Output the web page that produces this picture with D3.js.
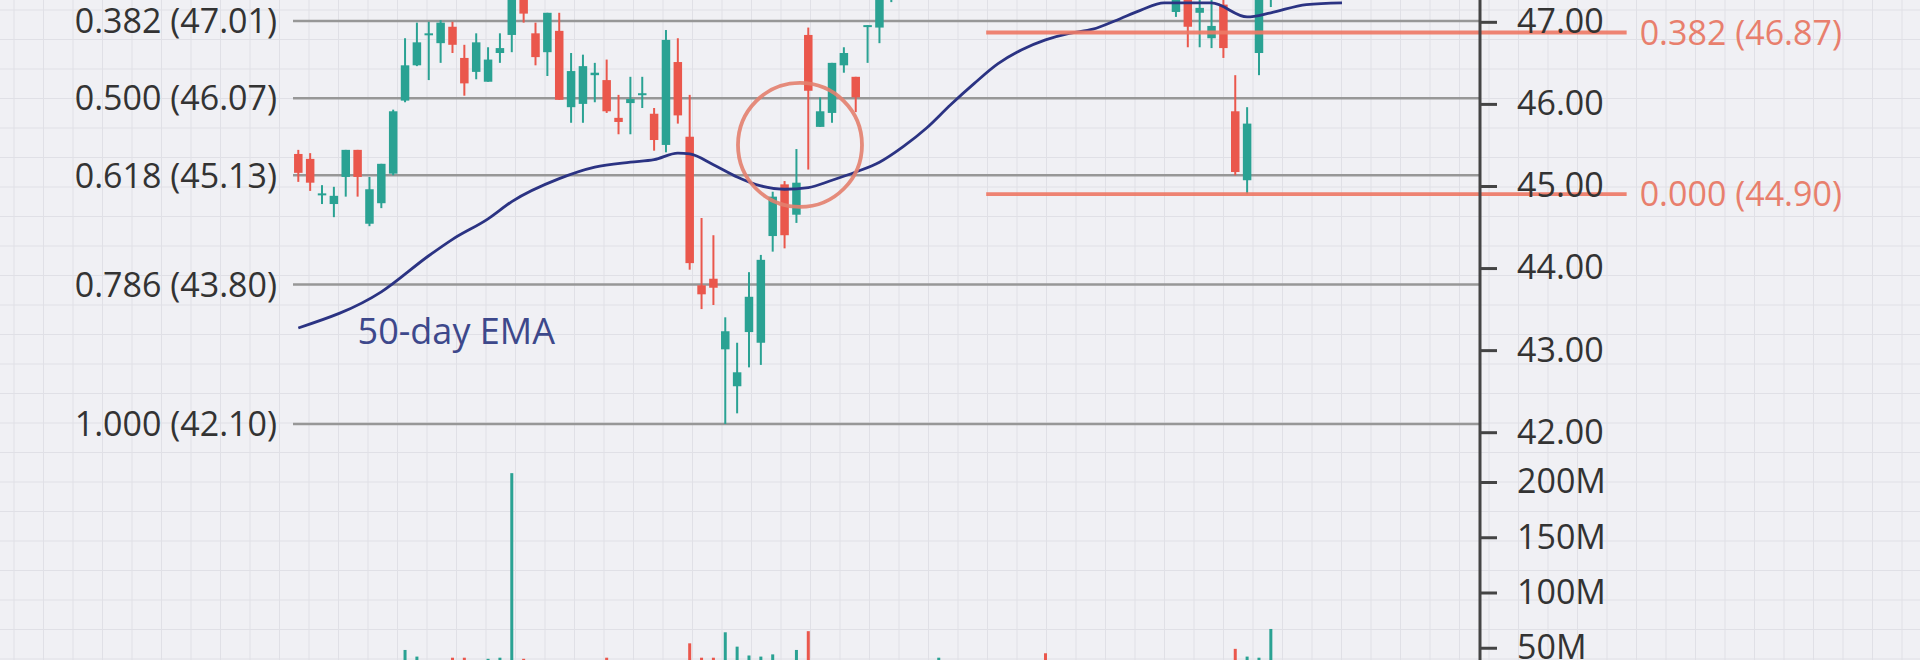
<!DOCTYPE html>
<html>
<head>
<meta charset="utf-8">
<script src="https://cdn.jsdelivr.net/npm/d3@7"></script>
<style>
  html, body { margin: 0; padding: 0; background: #f0f0f4; }
  svg { display: block; }
</style>
</head>
<body>
<svg id="chart" width="1920" height="660"></svg>
<script>
// ---------------- DATA ----------------
const candleDays = [0,1,2,3,4,5,6,7,8,9,10,11,12,13,14,15,16,17,18,19,20,21,22,23,24,25,26,27,28,29,30,31,32,33,34,35,36,37,38,39,40,41,42,43,44,45,46,47,48,49,50,74,75,76,77,78,79,80,81,82];
const opens  = [45.39,45.33,44.89,44.78,45.11,45.44,44.54,44.79,45.15,46.04,46.47,46.84,46.74,46.94,46.56,46.39,46.27,46.62,46.84,47.33,46.86,46.63,46.89,45.96,46.00,46.35,46.29,45.83,46.01,46.11,45.88,45.50,46.51,45.60,43.79,43.87,43.01,42.56,43.22,43.09,44.39,45.02,44.65,46.84,45.72,45.89,46.47,46.33,46.94,46.93,47.33,47.12,47.36,47.11,46.80,47.21,45.91,45.07,46.62,47.33];
const highs  = [45.44,45.40,45.01,44.99,45.44,45.44,45.11,45.27,45.93,46.80,46.99,47.00,47.02,47.00,46.72,46.86,46.69,46.86,47.45,47.39,46.99,47.11,47.11,46.62,46.60,46.50,46.54,46.11,46.33,46.33,45.95,46.90,46.80,46.11,44.61,44.40,43.40,43.09,43.95,44.16,44.93,45.06,45.45,46.93,46.08,46.50,46.69,46.33,46.96,47.41,47.69,47.39,47.41,47.33,47.30,47.33,46.35,45.96,47.45,47.60];
const lows   = [45.05,44.94,44.78,44.62,44.87,44.87,44.51,44.73,45.13,46.02,46.46,46.29,46.50,46.62,46.10,46.30,46.27,46.50,46.63,46.99,46.47,46.34,46.05,45.77,45.77,46.02,45.89,45.63,45.63,45.95,45.43,45.41,45.76,43.98,43.50,43.55,42.10,42.23,42.79,42.82,44.20,44.24,44.55,45.20,45.72,45.77,46.38,45.90,46.50,46.74,47.24,47.06,46.69,46.69,46.68,46.56,45.13,44.90,46.35,47.18];
const closes = [45.16,45.04,44.91,44.88,45.44,45.11,44.96,45.27,45.91,46.47,46.75,46.86,46.99,46.72,46.25,46.75,46.54,46.68,47.39,47.10,46.57,47.11,46.05,46.40,46.46,46.38,45.91,45.78,46.06,46.13,45.56,46.78,45.86,44.06,43.68,43.76,43.23,42.73,43.65,44.10,44.87,44.40,45.04,46.16,45.91,46.50,46.62,46.08,46.96,47.36,47.63,47.33,46.94,47.17,46.95,46.68,45.17,45.76,47.39,47.55];

// Volume (in shares) and direction (1 = up day, 0 = down day)
const volumeDays   = [9,10,13,14,16,17,18,19,26,33,34,35,36,37,38,39,40,42,43,54,63,79,80,81,82];
const volumeValues = [48e6,42e6,41e6,41e6,40e6,41e6,208e6,40e6,41e6,54e6,41e6,41e6,64e6,51e6,43e6,42e6,44e6,48e6,65e6,41e6,45e6,49e6,42e6,41e6,67e6];
const volumeUp     = [1,1,0,0,1,1,1,0,0,0,0,0,1,1,1,1,1,1,0,1,0,0,1,1,1];

// 50-day EMA
const emaDays   = [0,7,11,13,16,18,22,25,28,30,32,33,35,37,39,41,43,45,47,49,51,53,55,57,59,61,63,65,67,69,71,73,77,80,82,85,88];
const emaValues = [43.27,43.71,44.15,44.35,44.60,44.81,45.09,45.23,45.29,45.32,45.40,45.39,45.26,45.11,45.00,44.96,44.98,45.07,45.17,45.29,45.48,45.71,45.99,46.25,46.49,46.66,46.78,46.86,46.91,47.02,47.14,47.23,47.23,47.06,47.11,47.21,47.23];

// Fibonacci retracement (first swing) – gray levels
const fibRatios = [0.382, 0.500, 0.618, 0.786, 1.000];
const fibPrices = [47.01, 46.07, 45.13, 43.80, 42.10];

// Fibonacci extension (second swing) – orange levels
const fib2Ratios = [0.382, 0.000];
const fib2Prices = [46.87, 44.90];
const fib2FromDay = 58, fib2ToDay = 112;

// Right-axis ticks
const priceTicks  = [42, 43, 44, 45, 46, 47];
const volumeTicks = [50e6, 100e6, 150e6, 200e6];

// Annotations
const emaLabel = "50-day EMA";
const emaLabelAt = { day: 5, price: 43.07 };
const circleAt = { day: 42.3, price: 45.50 };

// ---------------- LAYOUT / STYLE ----------------
const W = 1920, H = 660;
const plotLeft = 293, axisX = 1480;
const FONT = "'Open Sans', 'Noto Sans', sans-serif";
const GREEN = "#2aa293", RED = "#ea574c";
const ORANGE = "#ee7a67";
const TEXT = "#333333";

const x = d3.scaleLinear().domain([0, 88]).range([298.3, 1342]);
const y = d3.scaleLinear().domain([42.10, 47.01]).range([424, 21]);
const yVol = d3.scaleLinear().domain([0, 200e6]).range([703, 482]);

const svg = d3.select("#chart");

// background
svg.append("rect").attr("width", W).attr("height", H).attr("fill", "#f0f0f4");
const grid = svg.append("g").attr("stroke", "#e0e0e6").attr("stroke-width", 1);
grid.selectAll("line.v").data(d3.range(14, W, 29.5)).join("line")
  .attr("class", "v").attr("x1", d => d).attr("x2", d => d).attr("y1", 0).attr("y2", H);
grid.selectAll("line.h").data(d3.range(10, H, 29.5)).join("line")
  .attr("class", "h").attr("y1", d => d).attr("y2", d => d).attr("x1", 0).attr("x2", W);

// gray fib levels
const fib = fibRatios.map((r, i) => ({ r, p: fibPrices[i] }));
svg.append("g").selectAll("line").data(fib).join("line")
  .attr("x1", plotLeft).attr("x2", axisX)
  .attr("y1", d => y(d.p)).attr("y2", d => y(d.p))
  .attr("stroke", "#979797").attr("stroke-width", 2.5);
svg.append("g").selectAll("text").data(fib).join("text")
  .attr("x", plotLeft - 16).attr("y", d => y(d.p)).attr("dy", "0.36em")
  .attr("text-anchor", "end")
  .attr("font-family", FONT).attr("font-size", 34).attr("font-weight", 500).attr("fill", TEXT)
  .text(d => `${d.r.toFixed(3)} (${d.p.toFixed(2)})`);

// volume bars
const vols = volumeDays.map((d, i) => ({ d, v: volumeValues[i], up: volumeUp[i] }));
svg.append("g").selectAll("rect").data(vols).join("rect")
  .attr("x", d => x(d.d) - 1.5).attr("width", 3)
  .attr("y", d => yVol(d.v)).attr("height", d => yVol(0) - yVol(d.v))
  .attr("fill", d => d.up ? GREEN : RED);

// candles
const candles = candleDays.map((d, i) => ({ d, o: opens[i], h: highs[i], l: lows[i], c: closes[i] }));
const cg = svg.append("g").selectAll("g").data(candles).join("g");
cg.append("line")
  .attr("x1", d => x(d.d)).attr("x2", d => x(d.d))
  .attr("y1", d => y(d.h)).attr("y2", d => y(d.l))
  .attr("stroke", d => d.c >= d.o ? GREEN : RED).attr("stroke-width", 2);
cg.append("rect")
  .attr("x", d => x(d.d) - 4.25).attr("width", 8.5)
  .attr("y", d => y(Math.max(d.o, d.c)))
  .attr("height", d => Math.max(2, Math.abs(y(d.o) - y(d.c))))
  .attr("fill", d => d.c >= d.o ? GREEN : RED);

// EMA
const ema = emaDays.map((d, i) => ({ d, v: emaValues[i] }));
svg.append("path").datum(ema)
  .attr("d", d3.line().x(d => x(d.d)).y(d => y(d.v)).curve(d3.curveMonotoneX))
  .attr("fill", "none").attr("stroke", "#2b3383").attr("stroke-width", 2.8);
svg.append("text")
  .attr("x", x(emaLabelAt.day)).attr("y", y(emaLabelAt.price))
  .attr("font-family", FONT).attr("font-size", 36).attr("font-weight", 500).attr("fill", "#3d488b")
  .text(emaLabel);

// orange fib levels
const fib2 = fib2Ratios.map((r, i) => ({ r, p: fib2Prices[i] }));
svg.append("g").selectAll("line").data(fib2).join("line")
  .attr("x1", x(fib2FromDay)).attr("x2", x(fib2ToDay))
  .attr("y1", d => y(d.p)).attr("y2", d => y(d.p))
  .attr("stroke", ORANGE).attr("stroke-width", 3.8).attr("opacity", 0.92);
svg.append("g").selectAll("text").data(fib2).join("text")
  .attr("x", x(fib2ToDay) + 13).attr("y", d => y(d.p)).attr("dy", "0.36em")
  .attr("font-family", FONT).attr("font-size", 34).attr("font-weight", 500).attr("fill", "#e87f6d")
  .text(d => `${d.r.toFixed(3)} (${d.p.toFixed(2)})`);

// highlight circle
svg.append("circle")
  .attr("cx", x(circleAt.day)).attr("cy", y(circleAt.price)).attr("r", 62)
  .attr("fill", "none").attr("stroke", "#e3806e").attr("stroke-width", 3.8).attr("opacity", 0.9);

// right axes
function styleAxis(g) {
  g.select(".domain").remove();
  g.selectAll(".tick line").attr("stroke", "#444").attr("stroke-width", 3);
  g.selectAll(".tick text").attr("font-family", FONT).attr("font-size", 34)
    .attr("font-weight", 500).attr("fill", TEXT);
}
svg.append("g").attr("transform", `translate(${axisX},0)`)
  .call(d3.axisRight(y).tickValues(priceTicks).tickFormat(d3.format(".2f")).tickSize(17).tickPadding(20))
  .call(styleAxis);
svg.append("g").attr("transform", `translate(${axisX},0)`)
  .call(d3.axisRight(yVol).tickValues(volumeTicks).tickFormat(d => (d / 1e6) + "M").tickSize(17).tickPadding(20))
  .call(styleAxis);
svg.append("line").attr("x1", axisX).attr("x2", axisX).attr("y1", 0).attr("y2", H)
  .attr("stroke", "#444").attr("stroke-width", 3);
</script>
</body>
</html>
